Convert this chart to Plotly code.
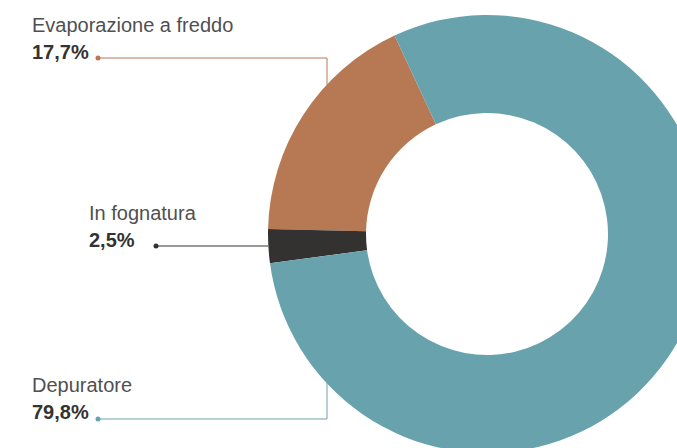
import plotly.graph_objects as go

labels = ["Evaporazione a freddo", "In fognatura", "Depuratore"]
values = [17.7, 2.5, 79.8]
value_labels = ["17,7%", "2,5%", "79,8%"]
colors = ["#b67954", "#343230", "#68a3ad"]

W, H = 720, 462
CX, CY, R = 487, 234, 219


def px(x):
    return x / W


def py(y):
    return 1 - y / H


fig = go.Figure(go.Pie(
    labels=labels, values=values, marker=dict(colors=colors, line=dict(width=0)),
    hole=0.5525, sort=False, direction="counterclockwise", rotation=-88.7,
    textinfo="none", hoverinfo="label+percent", showlegend=False,
    domain=dict(x=[px(CX - R), px(CX + R)], y=[py(CY + R), py(CY - R)]),
))

# label layout: (text x, name y, value y, dot x, line y, path points)
label_pos = [
    (30, 25, 52, 98, 58, [(98, 58), (327, 58), (327, 85)]),
    (87, 213, 240, 156, 246, [(156, 246), (268, 246)]),
    (30, 385, 412, 98, 419, [(98, 419), (327, 419), (327, 383)]),
]

shapes = []
annotations = []
for i, (tx, ny, vy, dx, ly, pts) in enumerate(label_pos):
    annotations.append(dict(
        x=px(tx), y=py(ny), xref="paper", yref="paper", xanchor="left", yanchor="middle",
        text=labels[i], showarrow=False,
        font=dict(family="Liberation Sans, Arial, sans-serif", size=20, color="#505050")))
    annotations.append(dict(
        x=px(tx), y=py(vy), xref="paper", yref="paper", xanchor="left", yanchor="middle",
        text="<b>" + value_labels[i] + "</b>", showarrow=False,
        font=dict(family="Liberation Sans, Arial, sans-serif", size=20, color="#333333")))
    path = "M " + " L ".join(f"{px(x)},{py(y)}" for x, y in pts)
    shapes.append(dict(type="path", xref="paper", yref="paper", path=path,
                       line=dict(color=colors[i], width=1)))
    r = 2.5
    shapes.append(dict(type="circle", xref="paper", yref="paper",
                       x0=px(dx - r), x1=px(dx + r), y0=py(ly + r), y1=py(ly - r),
                       fillcolor=colors[i], line=dict(width=0)))

fig.update_layout(
    width=W, height=H, margin=dict(l=0, r=0, t=0, b=0),
    paper_bgcolor="white", plot_bgcolor="white",
    shapes=shapes, annotations=annotations,
)

fig.write_html("out.html", config={"displayModeBar": False},
               post_script="document.body.style.margin='0';document.body.style.overflow='hidden';")
